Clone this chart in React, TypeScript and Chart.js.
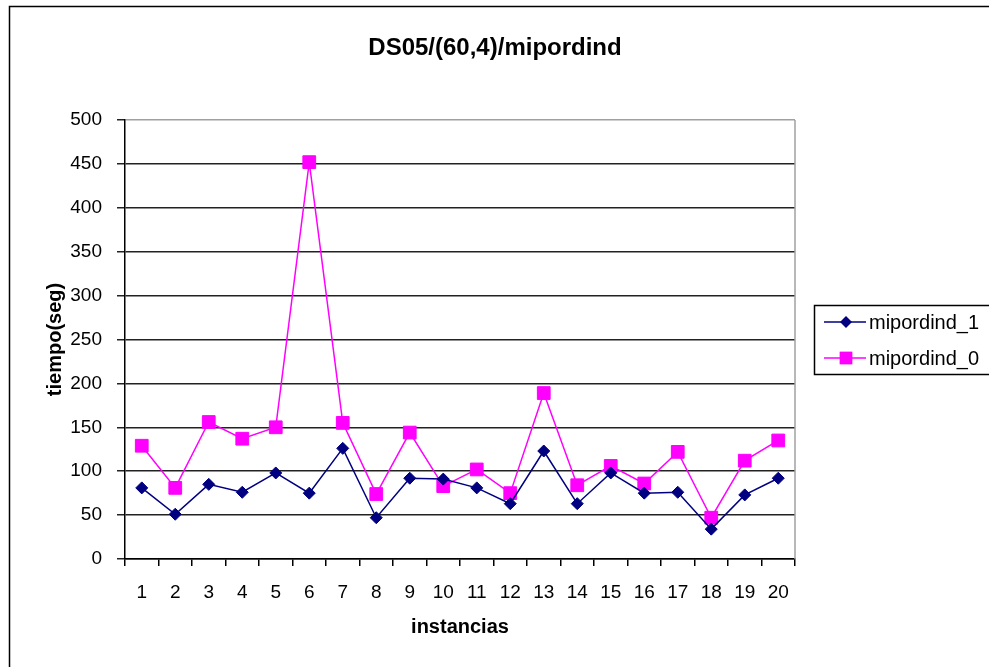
import React, { useEffect, useRef } from 'react';
import { Chart, registerables } from 'chart.js';

Chart.register(...registerables);

const categories = ['1', '2', '3', '4', '5', '6', '7', '8', '9', '10', '11', '12', '13', '14', '15', '16', '17', '18', '19', '20'];
const mipordind1 = [81, 51, 85, 76, 98, 75, 126, 47, 92, 91, 81, 63, 123, 63, 98, 75, 76, 34, 73, 92];
const mipordind0 = [129, 81, 156, 137, 150, 452, 155, 74, 144, 83, 102, 75, 189, 84, 106, 86, 122, 47, 112, 135];
const yMin = 0;
const yMax = 500;
const yStep = 50;
const chartTitle = 'DS05/(60,4)/mipordind';
const xTitle = 'instancias';
const yTitle = 'tiempo(seg)';
const seriesNames = ['mipordind_1', 'mipordind_0'];

const FONT = '"Liberation Sans", Arial, sans-serif';

const decorPlugin = {
  id: 'decor',
  beforeDraw(chart: any) {
    const { ctx, width, height } = chart;
    ctx.save();
    ctx.fillStyle = '#ffffff';
    ctx.fillRect(0, 0, width, height);
    ctx.restore();
  },
  afterDraw(chart: any) {
    const { ctx, chartArea } = chart;
    ctx.save();
    // outer frame (cropped at right and bottom)
    ctx.strokeStyle = '#000';
    ctx.lineWidth = 1.5;
    ctx.beginPath();
    ctx.moveTo(9.5, 700);
    ctx.lineTo(9.5, 6.5);
    ctx.lineTo(1000, 6.5);
    ctx.stroke();

    // plot right border
    ctx.strokeStyle = '#a0a0a0';
    ctx.lineWidth = 1.5;
    ctx.beginPath();
    ctx.moveTo(chartArea.right, chartArea.top);
    ctx.lineTo(chartArea.right, chartArea.bottom);
    ctx.stroke();

    // title
    ctx.fillStyle = '#000';
    ctx.textAlign = 'center';
    ctx.textBaseline = 'middle';
    ctx.font = 'bold 24px ' + FONT;
    ctx.fillText(chartTitle, 495, 48);

    // x title
    ctx.font = 'bold 20px ' + FONT;
    ctx.fillText(xTitle, (chartArea.left + chartArea.right) / 2, 627);

    // y title
    ctx.save();
    ctx.translate(55, (chartArea.top + chartArea.bottom) / 2);
    ctx.rotate(-Math.PI / 2);
    ctx.fillText(yTitle, 0, 0);
    ctx.restore();

    // legend
    const bx = 814.5, by = 305.5, bw = 200, bh = 69;
    ctx.strokeStyle = '#000';
    ctx.lineWidth = 1.5;
    ctx.strokeRect(bx, by, bw, bh);
    const rows = [322, 358];
    chart.data.datasets.forEach((ds: any, i: number) => {
      const y = rows[i];
      ctx.strokeStyle = ds.borderColor;
      ctx.lineWidth = ds.borderWidth;
      ctx.beginPath();
      ctx.moveTo(824, y);
      ctx.lineTo(866, y);
      ctx.stroke();
      ctx.fillStyle = ds.pointBackgroundColor;
      const cx = 846;
      if (ds.pointStyle === 'rectRot') {
        const r = ds.pointRadius;
        ctx.beginPath();
        ctx.moveTo(cx, y - r);
        ctx.lineTo(cx + r, y);
        ctx.lineTo(cx, y + r);
        ctx.lineTo(cx - r, y);
        ctx.closePath();
        ctx.fill();
      } else {
        const h = ds.pointRadius * Math.SQRT1_2;
        ctx.fillRect(cx - h, y - h, 2 * h, 2 * h);
      }
      ctx.fillStyle = '#000';
      ctx.textAlign = 'left';
      ctx.textBaseline = 'middle';
      ctx.font = '20px ' + FONT;
      ctx.fillText(ds.label, 869, y + 1);
    });
    ctx.restore();
  },
};

export default function App() {
  const ref = useRef<HTMLCanvasElement | null>(null);

  useEffect(() => {
    if (!ref.current) return;
    const chart = new Chart(ref.current, {
      type: 'line',
      data: {
        labels: categories,
        datasets: [
          {
            label: seriesNames[0],
            data: mipordind1,
            borderColor: '#000080',
            backgroundColor: '#000080',
            pointBackgroundColor: '#000080',
            pointBorderColor: '#000080',
            borderWidth: 1.5,
            pointStyle: 'rectRot',
            pointRadius: 6,
            pointBorderWidth: 1,
            tension: 0,
          },
          {
            label: seriesNames[1],
            data: mipordind0,
            borderColor: '#ff00ff',
            backgroundColor: '#ff00ff',
            pointBackgroundColor: '#ff00ff',
            pointBorderColor: '#ff00ff',
            borderWidth: 1.5,
            pointStyle: 'rect',
            pointRadius: 9,
            pointBorderWidth: 1,
            tension: 0,
          },
        ],
      },
      options: {
        animation: false,
        responsive: false,
        devicePixelRatio: 1,
        layout: { padding: { top: 120, right: 194, left: 0, bottom: 0 } },
        plugins: {
          legend: { display: false },
          title: { display: false },
          tooltip: { enabled: false },
        },
        scales: {
          x: {
            offset: true,
            afterFit: (s: any) => { s.height = 108; },
            grid: {
              offset: true,
              drawOnChartArea: false,
              drawTicks: true,
              tickLength: 7,
              color: '#000',
              lineWidth: 1.5,
            },
            border: { color: '#000', width: 1.5 },
            ticks: {
              color: '#000',
              padding: 15,
              maxRotation: 0,
              autoSkip: false,
              font: { family: FONT, size: 19 },
            },
          },
          y: {
            min: yMin,
            max: yMax,
            afterFit: (s: any) => { s.width = 125; },
            grid: {
              drawTicks: true,
              tickLength: 8,
              color: (c: any) => (c.tick && c.tick.value === yMax ? '#a0a0a0' : '#222'),
              tickColor: '#222',
              lineWidth: 1.5,
            },
            border: { color: '#000', width: 1.5 },
            ticks: {
              stepSize: yStep,
              color: '#000',
              padding: 15,
              font: { family: FONT, size: 19 },
            },
          },
        },
      },
      plugins: [decorPlugin],
    });
    return () => chart.destroy();
  }, []);

  return (
    <div style={{ position: 'absolute', left: 0, top: 0, width: 989, height: 667 }}>
      <canvas ref={ref} width={989} height={667} style={{ width: 989, height: 667 }} />
    </div>
  );
}
